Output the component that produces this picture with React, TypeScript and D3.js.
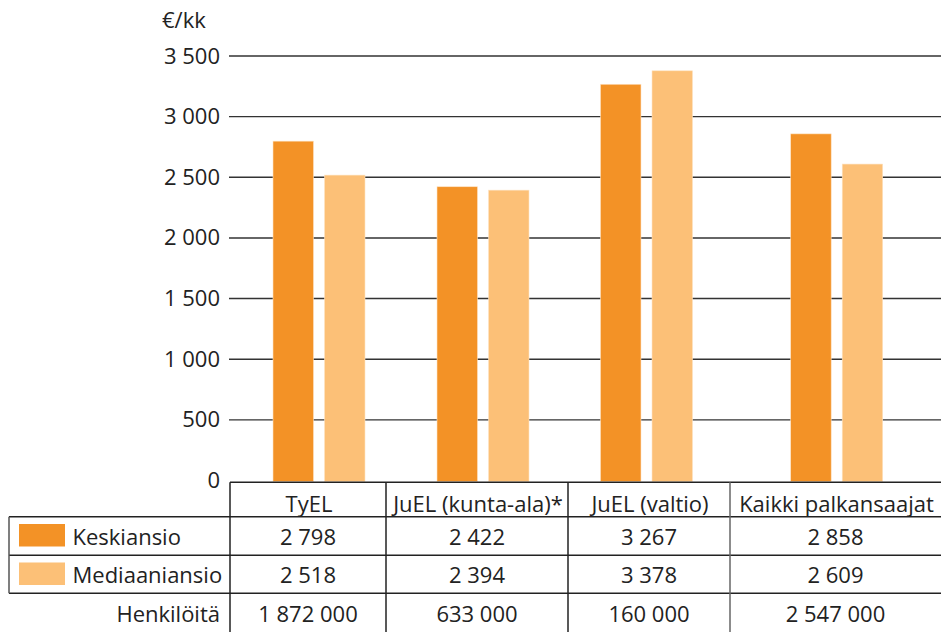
import React from "react";
import * as d3 from "d3";

const categories = ["TyEL", "JuEL (kunta-ala)*", "JuEL (valtio)", "Kaikki palkansaajat"];
const seriesNames = ["Keskiansio", "Mediaaniansio"];
const keskiansio = [2798, 2422, 3267, 2858];
const mediaaniansio = [2518, 2394, 3378, 2609];
const henkiloita = [1872000, 633000, 160000, 2547000];
const yTicks = [0, 500, 1000, 1500, 2000, 2500, 3000, 3500];
const unitLabel = "€/kk";
const personsLabel = "Henkilöitä";

const W = 941;
const H = 632;
const colors = ["#F39226", "#FCC077"];
const FONT = "'Open Sans', sans-serif";
const TEXT = "#222";

const fmt = d3.formatLocale({ decimal: ",", thousands: "\u2009", grouping: [3], currency: ["", "€"] }).format(",d");
const fmtS = (v: number) => fmt(v).replace(/\u2009/g, " ");

export default function App() {
  const y = d3.scaleLinear().domain([0, 3500]).range([480.5, 56]);
  // table column boundaries
  const colEdges = [230, 386, 568, 730, 941];
  const groupCenter = d3.scaleOrdinal<string, number>().domain(categories).range([319, 483, 646.5, 836.7]);
  const inner = d3.scaleBand<string>().domain(seriesNames).range([-46, 46]).paddingInner(0.214);
  const series = [keskiansio, mediaaniansio];

  const gridX0 = 229;
  const tickX = 220;
  const rowLines = [482.3, 516.7, 555.3, 593.3];
  const rowBaselines = [544.5, 583, 622];
  const fs = 22;

  return (
    <svg width={W} height={H} style={{ position: "absolute", left: 0, top: 0, background: "#fff" }} fontFamily={FONT}>
      <rect x={0} y={0} width={W} height={H} fill="#fff" />
      {/* grid */}
      {yTicks.filter((t) => t > 0).map((t) => (
        <line key={t} x1={gridX0} x2={W} y1={y(t)} y2={y(t)} stroke="#333" strokeWidth={1.4} />
      ))}
      {/* y tick labels */}
      {yTicks.map((t) => (
        <text key={t} x={tickX} y={y(t) + 7.5} textAnchor="end" fontSize={fs} fill={TEXT}>
          {fmtS(t)}
        </text>
      ))}
      <text x={162} y={28} fontSize={fs} fill={TEXT}>{unitLabel}</text>
      {/* bars */}
      {categories.map((c, i) =>
        seriesNames.map((s, j) => {
          const x = groupCenter(c) + (inner(s) as number);
          const v = series[j][i];
          return (
            <rect key={c + s} x={x} y={y(v)} width={inner.bandwidth()} height={y(0) - y(v) + 1}
              fill={colors[j]} stroke="#fde3c4" strokeWidth={0.6} />
          );
        })
      )}
      {/* table lines */}
      <line x1={colEdges[0]} x2={W} y1={rowLines[0]} y2={rowLines[0]} stroke="#222" strokeWidth={1.5} />
      {rowLines.slice(1).map((ly, k) => (
        <line key={k} x1={9} x2={W} y1={ly} y2={ly} stroke="#222" strokeWidth={1.5} />
      ))}
      <line x1={9} x2={9} y1={rowLines[1]} y2={rowLines[3]} stroke="#555" strokeWidth={1.5} />
      {colEdges.slice(0, 4).map((cx, k) => (
        <line key={k} x1={cx} x2={cx} y1={rowLines[0]} y2={H} stroke={k === 3 ? "#666" : "#222"} strokeWidth={1.5} />
      ))}
      {/* header */}
      {categories.map((c, i) => (
        <text key={c} x={(colEdges[i] + colEdges[i + 1]) / 2 + 1} y={511.5} textAnchor="middle" fontSize={fs} fill={TEXT}>
          {c}
        </text>
      ))}
      {/* legend rows */}
      {seriesNames.map((s, j) => (
        <g key={s}>
          <rect x={19} y={rowBaselines[j] - 20.5} width={46} height={22.5} fill={colors[j]} />
          <text x={72.5} y={rowBaselines[j]} fontSize={fs} fill={TEXT}>{s}</text>
          {categories.map((c, i) => (
            <text key={c} x={(colEdges[i] + colEdges[i + 1]) / 2} y={rowBaselines[j]} textAnchor="middle" fontSize={fs} fill={TEXT}>
              {fmtS(series[j][i])}
            </text>
          ))}
        </g>
      ))}
      <text x={tickX} y={rowBaselines[2]} textAnchor="end" fontSize={fs} fill={TEXT}>{personsLabel}</text>
      {categories.map((c, i) => (
        <text key={c} x={(colEdges[i] + colEdges[i + 1]) / 2} y={rowBaselines[2]} textAnchor="middle" fontSize={fs} fill={TEXT}>
          {fmtS(henkiloita[i])}
        </text>
      ))}
    </svg>
  );
}
